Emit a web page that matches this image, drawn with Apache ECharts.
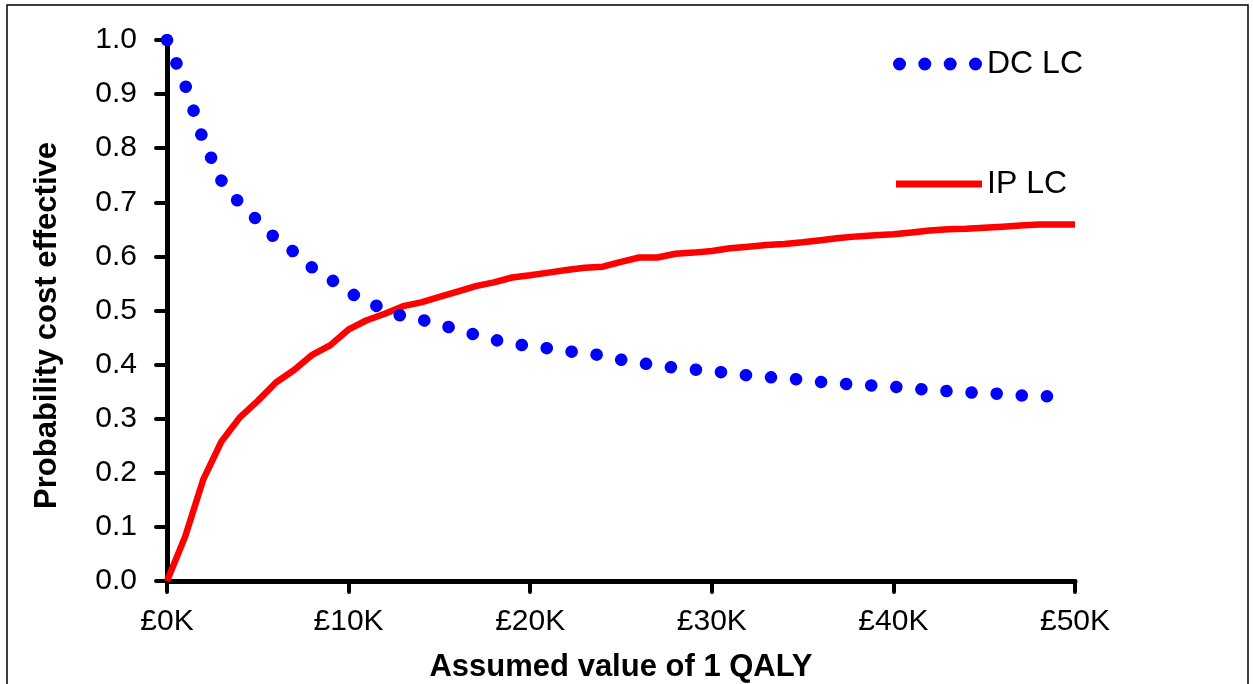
<!DOCTYPE html>
<html>
<head>
<meta charset="utf-8">
<script src="https://cdn.jsdelivr.net/npm/echarts@6/dist/echarts.min.js"></script>
<style>
  html, body { margin: 0; padding: 0; background: #fff; }
  #ceac { width: 1253px; height: 684px; }
</style>
</head>
<body>
<div id="ceac"></div>
<script>
  // value of 1 QALY, in £ thousands
  let qalyK = [0, 1, 2, 3, 4, 5, 6, 7, 8, 9, 10, 11, 12, 13, 14, 15, 16, 17, 18, 19, 20,
    21, 22, 23, 24, 25, 26, 27, 28, 29, 30, 31, 32, 33, 34, 35, 36, 37, 38, 39, 40,
    41, 42, 43, 44, 45, 46, 47, 48, 49, 50]
  // probability cost effective
  let dcLc = [1.000, 0.917, 0.814, 0.740, 0.698, 0.666, 0.632, 0.608, 0.579, 0.558,
    0.534, 0.516, 0.502, 0.489, 0.483, 0.474, 0.465, 0.455, 0.446, 0.439,
    0.434, 0.430, 0.425, 0.421, 0.417, 0.409, 0.403, 0.399, 0.394, 0.391,
    0.388, 0.384, 0.380, 0.377, 0.375, 0.372, 0.368, 0.365, 0.363, 0.361,
    0.359, 0.356, 0.353, 0.351, 0.349, 0.347, 0.346, 0.343, 0.342, 0.341]
  let ipLc = [0.000, 0.082, 0.188, 0.258, 0.302, 0.333, 0.367, 0.390, 0.418, 0.436,
    0.465, 0.482, 0.494, 0.508, 0.515, 0.525, 0.535, 0.545, 0.552, 0.561,
    0.565, 0.570, 0.575, 0.579, 0.581, 0.590, 0.598, 0.598, 0.605, 0.607,
    0.610, 0.615, 0.618, 0.621, 0.623, 0.626, 0.630, 0.634, 0.637, 0.639,
    0.641, 0.644, 0.648, 0.650, 0.651, 0.653, 0.655, 0.657, 0.659, 0.659, 0.659]
  let seriesNames = ['DC LC', 'IP LC']
  let yTicks = [0, 0.1, 0.2, 0.3, 0.4, 0.5, 0.6, 0.7, 0.8, 0.9, 1.0]

  let font = "'Liberation Sans', Arial, sans-serif"

  function pairs(xs, ys) {
    return ys.map(function (v, i) { return [xs[i], v] })
  }

  let myChart = echarts.init(document.getElementById('ceac'), null, {renderer: 'canvas'})
  let option = {
    animation: false,
    backgroundColor: '#fff',
    textStyle: {fontFamily: font, color: '#000'},
    graphic: [{
      type: 'rect',
      silent: true,
      shape: {x: 7, y: 5, width: 1241, height: 700},
      style: {fill: 'none', stroke: '#000', lineWidth: 1.5}
    }],
    legend: [{
      left: 893,
      top: 48,
      padding: 0,
      selectedMode: false,
      itemWidth: 89,
      itemHeight: 13,
      itemStyle: {borderWidth: 0},
      textStyle: {fontSize: 32, color: '#000', fontFamily: font},
      data: [{
        name: seriesNames[0],
        icon: 'path://M0,6.5a6.5,6.5 0 1,0 13,0a6.5,6.5 0 1,0 -13,0z' +
          'M25.3,6.5a6.5,6.5 0 1,0 13,0a6.5,6.5 0 1,0 -13,0z' +
          'M50.7,6.5a6.5,6.5 0 1,0 13,0a6.5,6.5 0 1,0 -13,0z' +
          'M76,6.5a6.5,6.5 0 1,0 13,0a6.5,6.5 0 1,0 -13,0z'
      }]
    }, {
      left: 896,
      top: 168,
      padding: 0,
      selectedMode: false,
      itemWidth: 86,
      itemHeight: 7,
      itemStyle: {borderWidth: 0},
      textStyle: {fontSize: 32, color: '#000', fontFamily: font},
      data: [{name: seriesNames[1], icon: 'rect'}]
    }],
    grid: {
      left: 167,
      right: 178,
      top: 40,
      bottom: 103,
      containLabel: false,
      outerBoundsMode: 'none'
    },
    xAxis: {
      type: 'value',
      min: 0,
      max: 50,
      interval: 10,
      name: 'Assumed value of 1 QALY',
      nameLocation: 'middle',
      nameGap: 71,
      nameTextStyle: {fontSize: 31, fontWeight: 'bold', color: '#000', fontFamily: font},
      axisLine: {lineStyle: {color: '#000', width: 5}},
      axisTick: {show: true, length: 11, lineStyle: {color: '#000', width: 4, cap: 'round'}},
      axisLabel: {
        margin: 26,
        fontSize: 30,
        color: '#000',
        fontFamily: font,
        formatter: '£{value}K'
      },
      splitLine: {show: false}
    },
    yAxis: {
      type: 'value',
      min: 0,
      max: 1,
      interval: 0.1,
      name: 'Probability cost effective',
      nameLocation: 'middle',
      nameGap: 104,
      nameTextStyle: {fontSize: 31, fontWeight: 'bold', color: '#000', fontFamily: font, padding: [0, 30, 0, 0]},
      axisLine: {lineStyle: {color: '#000', width: 5}},
      axisTick: {show: true, length: 11, lineStyle: {color: '#000', width: 4, cap: 'round'}},
      axisLabel: {
        margin: 30,
        fontSize: 30,
        color: '#000',
        fontFamily: font,
        formatter: function (v) {
          let t = yTicks.find(function (k) { return Math.abs(k - v) < 1e-6 })
          return (t === undefined ? v : t).toFixed(1)
        }
      },
      splitLine: {show: false}
    },
    series: [{
      name: seriesNames[0],
      type: 'line',
      showSymbol: false,
      symbol: 'none',
      color: '#0000ff',
      lineStyle: {
        color: '#0000ff',
        width: 12.5,
        type: [0.1, 25.05],
        cap: 'round',
        join: 'round'
      },
      data: pairs(qalyK, dcLc),
      z: 3
    }, {
      name: seriesNames[1],
      type: 'line',
      showSymbol: false,
      symbol: 'none',
      color: '#ff0000',
      lineStyle: {color: '#ff0000', width: 6.5, join: 'round'},
      data: pairs(qalyK, ipLc),
      z: 2
    }]
  }

  myChart.setOption(option)
  window.onresize = function () {
    myChart.resize()
  }
</script>
</body>
</html>
